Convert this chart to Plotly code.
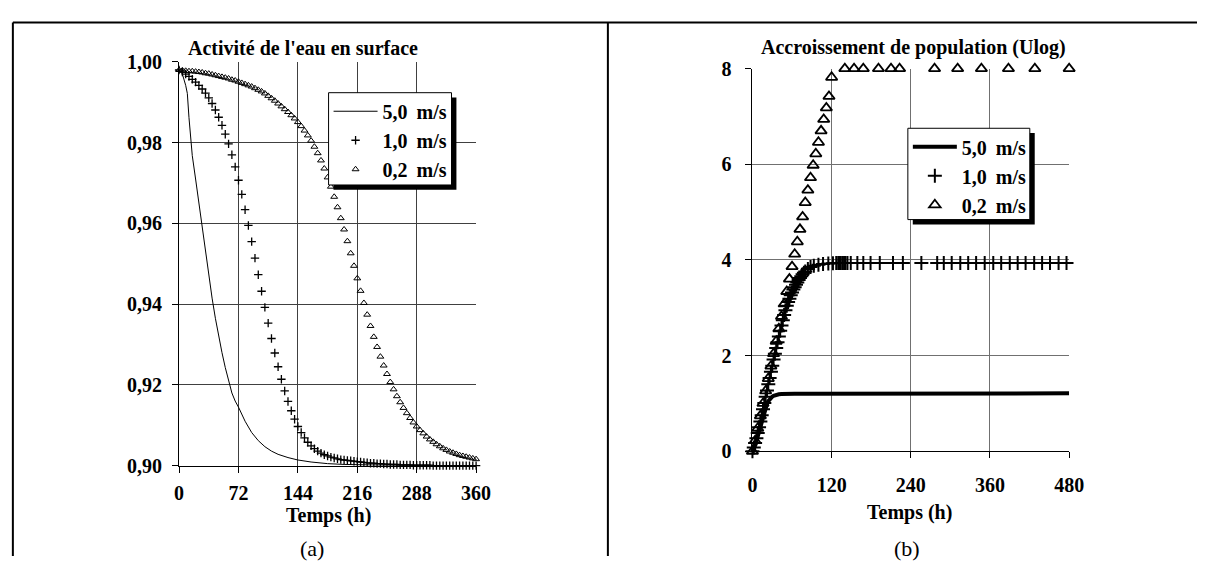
import plotly.graph_objects as go

W, H = 1212, 567
def px(x): return x / W
def py(y): return 1 - y / H

FONT = "Liberation Serif"

# ---------------- Data: chart (a) Activité de l'eau en surface ----------------
a_xticks = [0, 72, 144, 216, 288, 360]
a_xticktext = ["0", "72", "144", "216", "288", "360"]
a_yticks = [0.90, 0.92, 0.94, 0.96, 0.98, 1.00]
a_yticktext = ["0,90", "0,92", "0,94", "0,96", "0,98", "1,00"]

# 5,0 m/s (line)
a_t_50 = [0, 4, 8, 10, 12, 14, 16, 20, 24, 28, 32, 36, 40, 44, 48, 52, 56, 60, 64, 68, 72,
          80, 88, 96, 104, 112, 120, 132, 144, 160, 180, 200, 220, 250, 280, 360]
a_v_50 = [0.9980, 0.9970, 0.9942, 0.9922, 0.9862, 0.9808, 0.9768, 0.9710, 0.9650, 0.9592,
          0.9530, 0.9470, 0.9415, 0.9365, 0.9320, 0.9280, 0.9243, 0.9210, 0.9180, 0.9160,
          0.9145, 0.9110, 0.9082, 0.9062, 0.9047, 0.9036, 0.9028, 0.9020, 0.9014, 0.9009,
          0.9005, 0.9003, 0.9002, 0.9001, 0.9000, 0.9000]

# 1,0 m/s (+ markers), every 4 h
a_t_10 = list(range(0, 361, 4))
a_v_10 = [0.9980, 0.9975, 0.9970, 0.9964, 0.9957, 0.9950, 0.9942, 0.9933, 0.9923, 0.9911,
          0.9897, 0.9881, 0.9863, 0.9843, 0.9821, 0.9797, 0.9770, 0.9740, 0.9707, 0.9672,
          0.9634, 0.9595, 0.9555, 0.9514, 0.9473, 0.9432, 0.9392, 0.9353, 0.9315, 0.9279,
          0.9245, 0.9214, 0.9185, 0.9159, 0.9136, 0.9115, 0.9097, 0.9082, 0.9069, 0.9058,
          0.9049, 0.9042, 0.9036, 0.9031, 0.9027, 0.9024, 0.9021, 0.9019, 0.9017, 0.9015,
          0.9014, 0.9013, 0.9012, 0.9011, 0.9010, 0.9009, 0.9008, 0.9007, 0.9006, 0.9006,
          0.9005, 0.9005, 0.9004, 0.9004, 0.9003, 0.9003, 0.9003, 0.9002, 0.9002, 0.9002,
          0.9002, 0.9001, 0.9001, 0.9001, 0.9001, 0.9001, 0.9001, 0.9000, 0.9000, 0.9000,
          0.9000, 0.9000, 0.9000, 0.9000, 0.9000, 0.9000, 0.9000, 0.9000, 0.9000, 0.9000,
          0.9000]

# 0,2 m/s (triangle markers), every 4 h
a_t_02 = list(range(0, 361, 4))
a_v_02 = [0.9980, 0.9979, 0.9978, 0.9977, 0.9977, 0.9976, 0.9975, 0.9974, 0.9972, 0.9971,
          0.9969, 0.9967, 0.9965, 0.9963, 0.9961, 0.9959, 0.9956, 0.9954, 0.9951, 0.9948,
          0.9945, 0.9942, 0.9939, 0.9935, 0.9931, 0.9927, 0.9922, 0.9916, 0.9910, 0.9904,
          0.9897, 0.9890, 0.9883, 0.9876, 0.9868, 0.9860, 0.9851, 0.9841, 0.9830, 0.9818,
          0.9805, 0.9790, 0.9774, 0.9756, 0.9736, 0.9714, 0.9691, 0.9666, 0.9640, 0.9613,
          0.9585, 0.9556, 0.9526, 0.9495, 0.9464, 0.9433, 0.9403, 0.9374, 0.9346, 0.9319,
          0.9294, 0.9270, 0.9248, 0.9227, 0.9207, 0.9189, 0.9172, 0.9157, 0.9143, 0.9130,
          0.9118, 0.9107, 0.9097, 0.9088, 0.9080, 0.9072, 0.9065, 0.9059, 0.9053, 0.9048,
          0.9043, 0.9039, 0.9035, 0.9032, 0.9029, 0.9026, 0.9024, 0.9022, 0.9020, 0.9018,
          0.9016]

# ---------------- Data: chart (b) Accroissement de population (Ulog) ----------------
b_xticks = [0, 120, 240, 360, 480]
b_xticktext = ["0", "120", "240", "360", "480"]
b_yticks = [0, 2, 4, 6, 8]
b_yticktext = ["0", "2", "4", "6", "8"]

b_t_50 = [0, 2, 4, 6, 8, 10, 12, 14, 16, 18, 20, 22, 24, 26, 28, 30, 32, 36, 40, 44, 48,
          56, 64, 80, 120, 160, 200, 240, 280, 320, 360, 400, 440, 480]
b_v_50 = [0.00, 0.05, 0.12, 0.21, 0.31, 0.42, 0.53, 0.64, 0.74, 0.84, 0.92, 0.99, 1.05,
          1.09, 1.12, 1.14, 1.16, 1.18, 1.19, 1.195, 1.20, 1.20, 1.20, 1.20, 1.20, 1.20,
          1.20, 1.21, 1.21, 1.21, 1.21, 1.21, 1.21, 1.21]

b_t_10 = [0, 2, 4, 6, 8, 10, 12, 14, 16, 18, 20, 22, 24, 26, 28, 30, 32, 34, 36, 38, 40,
          42, 44, 46, 48, 50, 52, 54, 56, 58, 60, 62, 64, 66, 68, 70, 72, 74, 76, 78, 80,
          84, 88, 93, 100, 107, 115, 122, 127, 130, 132, 134, 137, 139, 141, 144, 149, 159,
          168, 179, 193, 213, 228, 256, 280, 290, 302, 315, 327, 339, 352, 365, 377, 390,
          402, 414, 427, 439, 451, 464, 476]
b_v_10 = [0.00, 0.08, 0.17, 0.27, 0.38, 0.50, 0.62, 0.75, 0.88, 1.01, 1.14, 1.27, 1.40,
          1.53, 1.66, 1.79, 1.92, 2.04, 2.16, 2.28, 2.40, 2.52, 2.63, 2.74, 2.85, 2.95,
          3.04, 3.12, 3.19, 3.26, 3.32, 3.38, 3.43, 3.48, 3.53, 3.58, 3.62, 3.66, 3.70,
          3.73, 3.76, 3.81, 3.85, 3.88, 3.90, 3.915, 3.925, 3.93, 3.935, 3.935, 3.935,
          3.935, 3.935, 3.935, 3.935, 3.935, 3.935, 3.935, 3.935, 3.935, 3.935, 3.935,
          3.935, 3.935, 3.935, 3.935, 3.935, 3.935, 3.935, 3.935, 3.935, 3.935, 3.935,
          3.935, 3.935, 3.935, 3.935, 3.935, 3.935, 3.935, 3.935]

b_t_02 = [0, 4, 8, 12, 16, 20, 24, 28, 32, 36, 40, 44, 48, 52, 56, 60, 64, 68, 72, 76, 80,
          84, 88, 92, 96, 100, 104, 108, 112, 116, 120, 140, 154, 168, 191, 210, 223, 276,
          311, 347, 388, 428, 480]
b_v_02 = [0.00, 0.22, 0.48, 0.74, 1.00, 1.26, 1.52, 1.78, 2.04, 2.30, 2.56, 2.82, 3.08,
          3.34, 3.60, 3.86, 4.12, 4.38, 4.64, 4.90, 5.20, 5.46, 5.72, 5.98, 6.22, 6.46,
          6.70, 6.94, 7.18, 7.42, 7.82, 8.0, 8.0, 8.0, 8.0, 8.0, 8.0, 8.0, 8.0, 8.0, 8.0,
          8.0, 8.0]

labels = ["5,0\u2009 m/s", "1,0\u2009 m/s", "0,2\u2009 m/s"]

# ---------------- Figure ----------------
fig = go.Figure()

# chart (a)
fig.add_trace(go.Scatter(x=a_t_02, y=a_v_02, mode="markers", name=labels[2],
                         marker=dict(symbol="triangle-up-open", size=6, color="black",
                                     line=dict(width=1, color="black")),
                         xaxis="x", yaxis="y", legend="legend", legendrank=3, cliponaxis=False))
fig.add_trace(go.Scatter(x=a_t_10, y=a_v_10, mode="markers", name=labels[1],
                         marker=dict(symbol="cross-thin", size=6, color="black",
                                     line=dict(width=1.3, color="black")),
                         xaxis="x", yaxis="y", legend="legend", legendrank=2, cliponaxis=False))
fig.add_trace(go.Scatter(x=a_t_50, y=a_v_50, mode="lines", name=labels[0],
                         line=dict(color="black", width=1),
                         xaxis="x", yaxis="y", legend="legend", legendrank=1, cliponaxis=False))

# chart (b)
fig.add_trace(go.Scatter(x=b_t_02, y=b_v_02, mode="markers", name=labels[2],
                         marker=dict(symbol="triangle-up-open", size=10, color="black",
                                     line=dict(width=1.8, color="black")),
                         xaxis="x2", yaxis="y2", legend="legend2", legendrank=3, cliponaxis=False))
fig.add_trace(go.Scatter(x=b_t_10, y=b_v_10, mode="markers", name=labels[1],
                         marker=dict(symbol="cross-thin", size=10, color="black",
                                     line=dict(width=2, color="black")),
                         xaxis="x2", yaxis="y2", legend="legend2", legendrank=2, cliponaxis=False))
fig.add_trace(go.Scatter(x=b_t_50, y=b_v_50, mode="lines", name=labels[0],
                         line=dict(color="black", width=4),
                         xaxis="x2", yaxis="y2", legend="legend2", legendrank=1, cliponaxis=False))

tickfont = dict(family=FONT, size=20, color="black", weight="bold")
legfont = dict(family=FONT, size=20, color="black", weight="bold")

fig.update_layout(
    width=W, height=H,
    margin=dict(l=0, r=0, t=0, b=0),
    paper_bgcolor="white", plot_bgcolor="white",
    showlegend=True,
    xaxis=dict(domain=[px(177), px(479)], range=[0, 360], tickvals=a_xticks, ticktext=a_xticktext,
               showgrid=True, gridcolor="#404040", gridwidth=1, zeroline=False,
               showline=True, linecolor="black", linewidth=1,
               ticks="outside", ticklen=6, tickcolor="black", tickfont=tickfont,
               ticklabelstandoff=3, anchor="y"),
    yaxis=dict(domain=[py(473), py(53)], range=[0.90, 1.00], tickvals=a_yticks, ticktext=a_yticktext,
               showgrid=True, gridcolor="#404040", gridwidth=1, zeroline=False,
               showline=True, linecolor="black", linewidth=1,
               ticks="outside", ticklen=6, tickcolor="black", tickfont=tickfont,
               ticklabelstandoff=6, anchor="x"),
    xaxis2=dict(domain=[px(760), px(1082)], range=[0, 480], tickvals=b_xticks, ticktext=b_xticktext,
                showgrid=True, gridcolor="#707070", gridwidth=1, zeroline=False,
                showline=True, linecolor="black", linewidth=1,
                ticks="outside", ticklen=6, tickcolor="black", tickfont=tickfont,
                ticklabelstandoff=10, anchor="y2"),
    yaxis2=dict(domain=[py(458), py(60)], range=[0, 8], tickvals=b_yticks, ticktext=b_yticktext,
                showgrid=True, gridcolor="#707070", gridwidth=1, zeroline=False,
                showline=True, linecolor="black", linewidth=1,
                ticks="outside", ticklen=6, tickcolor="black", tickfont=tickfont,
                ticklabelstandoff=10, anchor="x2"),
    legend=dict(x=px(329), y=py(84), xanchor="left", yanchor="top",
                bgcolor="rgba(0,0,0,0)", borderwidth=0, itemwidth=44,
                font=legfont, traceorder="normal"),
    legend2=dict(x=px(918), y=py(121), xanchor="left", yanchor="top",
                 bgcolor="rgba(0,0,0,0)", borderwidth=0, itemwidth=44,
                 font=legfont, traceorder="normal"),
)

shapes = [
    # table borders
    dict(type="line", xref="paper", yref="paper", x0=px(8), x1=1, y0=py(12), y1=py(12),
         line=dict(color="black", width=2)),
    dict(type="line", xref="paper", yref="paper", x0=px(8), x1=px(8), y0=py(12), y1=0,
         line=dict(color="black", width=2)),
    dict(type="line", xref="paper", yref="paper", x0=px(613), x1=px(613), y0=py(12), y1=0,
         line=dict(color="black", width=2)),
    # legend (a): shadow + box
    dict(type="rect", xref="paper", yref="paper", x0=px(334), x1=px(459), y0=py(186), y1=py(90),
         fillcolor="black", line=dict(width=0), layer="above"),
    dict(type="rect", xref="paper", yref="paper", x0=px(329), x1=px(454), y0=py(181), y1=py(85),
         fillcolor="white", line=dict(color="black", width=1), layer="above"),
    # legend (b): shadow + box
    dict(type="rect", xref="paper", yref="paper", x0=px(923), x1=px(1047), y0=py(222), y1=py(127),
         fillcolor="black", line=dict(width=0), layer="above"),
    dict(type="rect", xref="paper", yref="paper", x0=px(918), x1=px(1042), y0=py(217), y1=py(122),
         fillcolor="white", line=dict(color="black", width=1), layer="above"),
]
fig.update_layout(shapes=shapes)

titlefont = dict(family=FONT, size=20, color="black", weight="bold")
axtitlefont = dict(family=FONT, size=20, color="black", weight="bold")
annotations = [
    dict(text="Activité de l'eau en surface", x=px(303), y=py(38), xref="paper", yref="paper",
         showarrow=False, font=titlefont, xanchor="center", yanchor="middle"),
    dict(text="Accroissement de population (Ulog)", x=px(924), y=py(38), xref="paper", yref="paper",
         showarrow=False, font=titlefont, xanchor="center", yanchor="middle"),
    dict(text="Temps (h)", x=px(329), y=py(525), xref="paper", yref="paper",
         showarrow=False, font=axtitlefont, xanchor="center", yanchor="middle"),
    dict(text="Temps (h)", x=px(920), y=py(522), xref="paper", yref="paper",
         showarrow=False, font=axtitlefont, xanchor="center", yanchor="middle"),
    dict(text="(a)", x=px(312), y=py(559), xref="paper", yref="paper",
         showarrow=False, font=dict(family=FONT, size=22, color="black"),
         xanchor="center", yanchor="middle"),
    dict(text="(b)", x=px(917), y=py(559), xref="paper", yref="paper",
         showarrow=False, font=dict(family=FONT, size=22, color="black"),
         xanchor="center", yanchor="middle"),
]
fig.update_layout(annotations=annotations)

fig.write_html("out.html",
               post_script="document.body.style.margin='0px';document.body.style.overflow='hidden';")
